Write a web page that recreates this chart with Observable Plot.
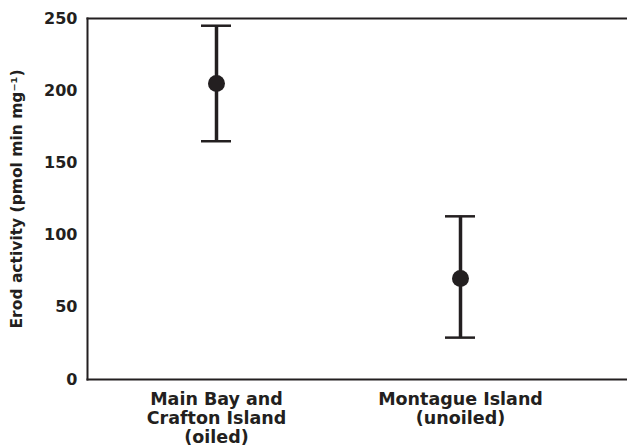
<!DOCTYPE html>
<html>
<head>
<meta charset="utf-8">
<script src="https://cdn.jsdelivr.net/npm/d3@7"></script>
<script src="https://cdn.jsdelivr.net/npm/@observablehq/plot@0.6"></script>
<style>
  html, body { margin: 0; padding: 0; background: #fff; }
  #chart svg { display: block; }
</style>
</head>
<body>
<div id="chart"></div>
<script>
// Data
const sites = ["Main Bay and\nCrafton Island\n(oiled)", "Montague Island\n(unoiled)"];
const means = [205, 70];
const lower = [165, 29];
const upper = [245, 113];
const yTicks = [0, 50, 100, 150, 200, 250];
const yLabel = "Erod activity (pmol min mg\u207B\u00B9)";

const data = sites.map((s, i) => ({site: s, mean: means[i], lo: lower[i], hi: upper[i]}));

const ink = "#231f20";
const font = "'DejaVu Sans', sans-serif";

const chart = Plot.plot({
  width: 627,
  height: 447,
  marginLeft: 87,
  marginRight: 0,
  marginTop: 18,
  marginBottom: 68,
  style: {fontFamily: font, fontWeight: "bold", color: ink, background: "#fff"},
  x: {type: "band", domain: sites, range: [94, 582], padding: 0},
  y: {domain: [0, 250]},
  marks: [
    Plot.frame({anchor: "left", stroke: ink, strokeWidth: 2}),
    Plot.frame({anchor: "top", stroke: ink, strokeWidth: 2}),
    Plot.frame({anchor: "bottom", stroke: ink, strokeWidth: 2}),
    Plot.axisY({
      ticks: yTicks, tickSize: 0, tickPadding: 10, fontSize: 16,
      label: yLabel, labelAnchor: "center", labelArrow: "none", labelOffset: 77
    }),
    Plot.axisX({
      tickSize: 0, tickPadding: 12, fontSize: 17.5, lineHeight: 1.08, label: null
    }),
    Plot.ruleX(data, {x: "site", y1: "lo", y2: "hi", stroke: ink, strokeWidth: 3.5}),
    Plot.tickY(data, {x: "site", y: "lo", stroke: ink, strokeWidth: 2.5, insetLeft: 107, insetRight: 107}),
    Plot.tickY(data, {x: "site", y: "hi", stroke: ink, strokeWidth: 2.5, insetLeft: 107, insetRight: 107}),
    Plot.dot(data, {x: "site", y: "mean", r: 8.5, fill: ink, stroke: "none"})
  ]
});

document.getElementById("chart").appendChild(chart);
// make the axis label font size match the reference
chart.querySelectorAll("g[aria-label='y-axis label'] text").forEach(t => t.setAttribute("font-size", "15.5"));
</script>
</body>
</html>
